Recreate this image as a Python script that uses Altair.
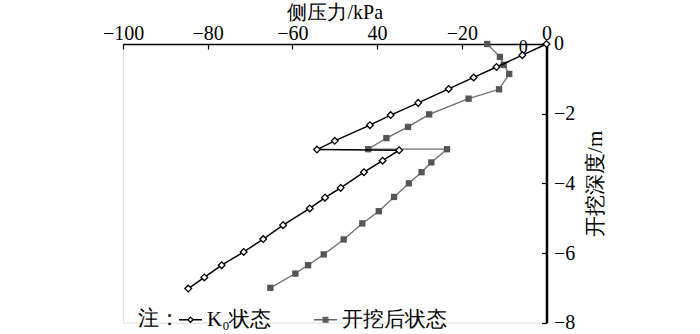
import altair as alt
import pandas as pd

series_names = ["K₀状态", "开挖后状态"]

k0_pressure = [0, -5.7, -11.8, -17.2, -23.1, -30.3, -36.8, -41.7, -50.0, -54.2, -34.8,
               -38.7, -43.1, -48.6, -52.3, -55.9, -62.2, -66.9, -71.5, -76.7, -80.8, -84.6]
k0_depth = [0, -0.32, -0.66, -0.96, -1.29, -1.69, -2.04, -2.33, -2.78, -3.03, -3.05,
            -3.35, -3.68, -4.13, -4.41, -4.72, -5.2, -5.6, -5.97, -6.35, -6.7, -7.02]

exc_pressure = [-14.0, -11.0, -10.1, -8.8, -11.2, -18.4, -27.7, -32.7, -37.8, -42.1, -23.5,
                -27.2, -29.5, -32.5, -36.0, -39.6, -43.5, -47.9, -52.6, -56.3, -59.3, -65.2]
exc_depth = [0, -0.37, -0.6, -0.86, -1.3, -1.57, -2.02, -2.38, -2.7, -3.02, -3.02,
             -3.4, -3.68, -4.0, -4.39, -4.8, -5.15, -5.61, -6.04, -6.35, -6.59, -7.0]

x_ticks = [-100, -80, -60, -40, -20, 0]
y_ticks = [0, -2, -4, -6, -8]

stray_label_x = [-5.5]
stray_label_y = [-0.12]
stray_label_text = ["0"]

k0_df = pd.DataFrame({"p": k0_pressure, "d": k0_depth, "i": range(len(k0_pressure)),
                      "series": series_names[0]})
exc_df = pd.DataFrame({"p": exc_pressure, "d": exc_depth, "i": range(len(exc_pressure)),
                       "series": series_names[1]})
all_df = pd.concat([k0_df, exc_df], ignore_index=True)
stray_df = pd.DataFrame({"p": stray_label_x, "d": stray_label_y, "t": stray_label_text})

FONT = "Liberation Serif"

x_axis = alt.Axis(orient="top", values=x_ticks, grid=False, labelFlush=False, labelOverlap=False,
                  labelExpr="datum.value == -40 ? '40' : (datum.value < 0 ? '−' + abs(datum.value) : '' + datum.value)",
                  title="侧压力/kPa", titleFontSize=20, titleFontWeight="normal",
                  labelFontSize=20, labelPadding=5, titlePadding=1,
                  tickSize=alt.ExprRef(expr="-5"), tickColor="black", tickWidth=1.2,
                  domainColor="black", domainWidth=1.5, labelColor="black", titleColor="black",
                  labelFont=FONT, titleFont=FONT)
y_axis = alt.Axis(orient="right", values=y_ticks, grid=False, labelFlush=False, labelOverlap=False,
                  labelExpr="datum.value < 0 ? '−' + abs(datum.value) : '' + datum.value",
                  title="开挖深度/m", titleFontSize=21, titleFontWeight="normal", titleAngle=270,
                  titleBaseline="top",
                  labelFontSize=20, labelPadding=12, titlePadding=10,
                  tickSize=alt.ExprRef(expr="-5"), tickColor="black", tickWidth=1.2,
                  domainColor="black", domainWidth=2.5, labelColor="black", titleColor="black",
                  labelFont=FONT, titleFont=FONT)

xs = alt.Scale(domain=[-100, 0], nice=False, zero=False)
ys = alt.Scale(domain=[-8, 0], nice=False, zero=False)

def enc(base):
    return base.encode(
        x=alt.X("p:Q", scale=xs, axis=x_axis),
        y=alt.Y("d:Q", scale=ys, axis=y_axis),
        order="i:Q",
    )

exc_line = enc(alt.Chart(exc_df).mark_line(color="#6e6e6e", strokeWidth=1.3))
exc_pts = enc(alt.Chart(exc_df).mark_point(shape="square", filled=True, color="#555555",
                                            size=40, opacity=1))
k0_line = enc(alt.Chart(k0_df).mark_line(color="black", strokeWidth=1.5))
k0_pts = enc(alt.Chart(k0_df).mark_point(shape="diamond", filled=True, fill="white",
                                          stroke="black", strokeWidth=1.3, size=45, opacity=1))

stray = alt.Chart(stray_df).mark_text(fontSize=18, font=FONT, color="black").encode(
    x=alt.X("p:Q", scale=xs, axis=x_axis),
    y=alt.Y("d:Q", scale=ys, axis=y_axis),
    text="t:N",
)

path_k0 = "M-2.4,0H-0.55M0.55,0H2.4M0,-0.55L0.55,0L0,0.55L-0.55,0Z"
path_exc = "M-2.4,0H-0.5M0.5,0H2.4M-0.5,-0.5H0.5V0.5H-0.5Z"

leg = alt.Legend(orient="none", legendX=15, legendY=265, direction="horizontal",
                 title="注：", titleOrient="left", titleFontSize=21, titleFontWeight="normal",
                 titleFont=FONT, titleColor="black", titlePadding=0, titleBaseline="middle",
                 labelFont=FONT, labelFontSize=21, labelColor="black", labelOffset=6,
                 symbolSize=92, symbolStrokeWidth=1.3, columnPadding=39)

legend_layer = alt.Chart(all_df).transform_filter("false").mark_point(opacity=1).encode(
    x=alt.X("p:Q", scale=xs, axis=x_axis),
    y=alt.Y("d:Q", scale=ys, axis=y_axis),
    shape=alt.Shape("series:N", scale=alt.Scale(domain=series_names, range=[path_k0, path_exc]), legend=leg),
    stroke=alt.Stroke("series:N", scale=alt.Scale(domain=series_names, range=["black", "#666666"]), legend=leg),
    fill=alt.Fill("series:N", scale=alt.Scale(domain=series_names, range=["white", "#555555"]), legend=leg),
)

chart = alt.layer(exc_line, exc_pts, k0_line, k0_pts, stray, legend_layer).properties(
    width=423.5, height=278.7,
    autosize=alt.AutoSizeParams(type="none"),
    padding={"left": 123, "top": 44, "right": 100, "bottom": 11},
).configure_view(stroke=None).configure(font=FONT)

chart.save("out.html", embed_options={"renderer": "svg", "actions": False})
